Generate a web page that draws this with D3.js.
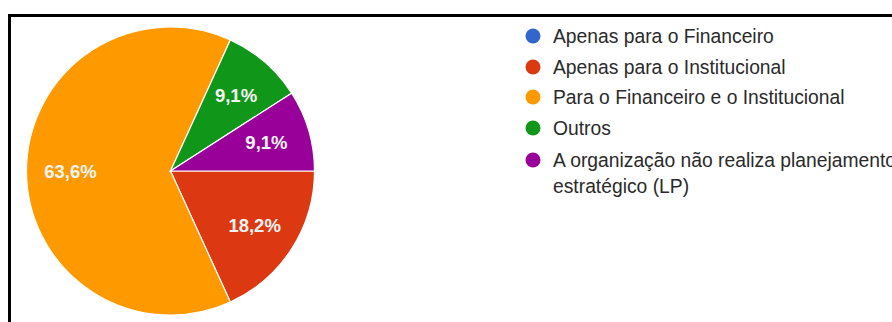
<!DOCTYPE html>
<html>
<head>
<meta charset="utf-8">
<script src="https://cdn.jsdelivr.net/npm/d3@7"></script>
<style>
  html, body { margin: 0; padding: 0; background: #fff; }
  svg { display: block; }
</style>
</head>
<body>
<svg id="chart" width="892" height="322"></svg>
<script>
// Response categories, counts and colours
const categories = [
  "Apenas para o Financeiro",
  "Apenas para o Institucional",
  "Para o Financeiro e o Institucional",
  "Outros",
  "A organização não realiza planejamento estratégico (LP)"
];
const counts = [0, 2, 7, 1, 1];
const percentLabels = ["0%", "18,2%", "63,6%", "9,1%", "9,1%"];
const colors = ["#3366cc", "#dc3912", "#ff9900", "#109618", "#990099"];

const svg = d3.select("#chart");

// frame lines (top and left)
svg.append("path")
  .attr("d", "M9.5,322 L9.5,15.5 L892,15.5")
  .attr("fill", "none")
  .attr("stroke", "#000")
  .attr("stroke-width", 3);

const cx = 170.5, cy = 171, r = 144;

const pie = d3.pie()
  .value(d => d)
  .sort(null)
  .startAngle(Math.PI / 2)
  .endAngle(Math.PI / 2 + 2 * Math.PI);

const arcs = pie(counts);
const arc = d3.arc().innerRadius(0).outerRadius(r);
const labelArc = d3.arc().innerRadius(100).outerRadius(100);

const g = svg.append("g").attr("transform", `translate(${cx},${cy})`);

g.selectAll("path.slice")
  .data(arcs)
  .join("path")
  .attr("class", "slice")
  .attr("d", arc)
  .attr("fill", (d, i) => colors[i])
  .attr("stroke", "#fff")
  .attr("stroke-width", 1.2);

g.selectAll("text.pct")
  .data(arcs.filter(d => d.data > 0))
  .join("text")
  .attr("class", "pct")
  .attr("transform", d => `translate(${labelArc.centroid(d)})`)
  .attr("text-anchor", "middle")
  .attr("dominant-baseline", "central")
  .attr("font-family", "Liberation Sans, Arial, sans-serif")
  .attr("font-size", 18.5)
  .attr("font-weight", "bold")
  .attr("fill", "#f4f4f4")
  .text(d => percentLabels[d.index]);

// legend
const legend = svg.append("g").attr("transform", "translate(533,0)");
const rowY = [36, 67, 97, 128, 160];
const lines = [
  [categories[0]],
  [categories[1]],
  [categories[2]],
  [categories[3]],
  ["A organização não realiza planejamento", "estratégico (LP)"]
];

const rows = legend.selectAll("g.row")
  .data(categories)
  .join("g")
  .attr("class", "row")
  .attr("transform", (d, i) => `translate(0,${rowY[i]})`);

rows.append("circle")
  .attr("r", 7.5)
  .attr("fill", (d, i) => colors[i]);

rows.append("text")
  .attr("x", 20)
  .attr("font-family", "Liberation Sans, Arial, sans-serif")
  .attr("font-size", 19.3)
  .attr("fill", "#2a2a2a")
  .each(function (d, i) {
    const t = d3.select(this);
    lines[i].forEach((ln, k) => {
      t.append("tspan")
        .attr("x", 20)
        .attr("y", k * 26)
        .attr("dy", "0.35em")
        .text(ln);
    });
  });
</script>
</body>
</html>
